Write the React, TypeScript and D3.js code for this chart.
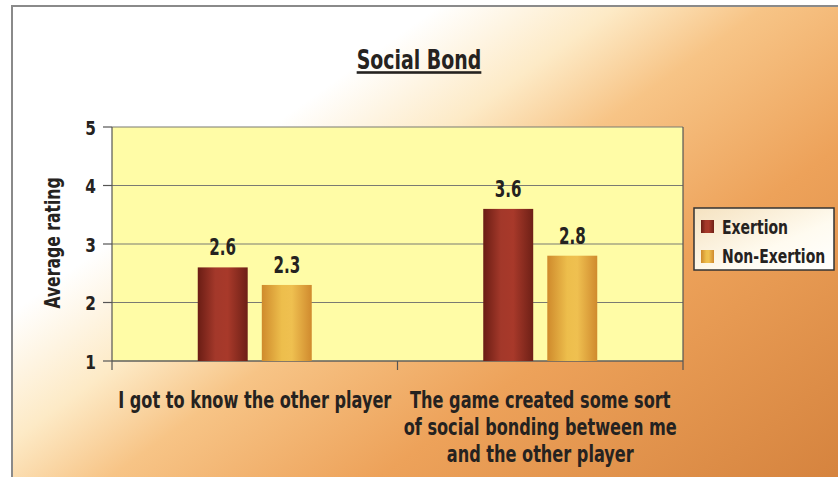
import React from "react";
import * as d3 from "d3";

const categories = [
  ["I got to know the other player"],
  ["The game created some sort", "of social bonding between me", "and the other player"],
];
const seriesNames = ["Exertion", "Non-Exertion"];
const exertion = [2.6, 3.6];
const nonExertion = [2.3, 2.8];
const yTicks = [1, 2, 3, 4, 5];
const title = "Social Bond";
const yTitle = "Average rating";

const W = 838;
const H = 477;
const FONT = "'DejaVu Sans Condensed', 'DejaVu Sans', sans-serif";
const INK = "#252220";

function Label(props: {
  x: number;
  y: number;
  size: number;
  anchor?: "start" | "middle" | "end";
  rotate?: number;
  k?: number;
  underline?: boolean;
  children: React.ReactNode;
}) {
  const { x, y, size, anchor = "start", rotate = 0, k = 0.8, underline } = props;
  return (
    <text
      transform={`translate(${x},${y}) rotate(${rotate}) scale(${k},1)`}
      textAnchor={anchor}
      fontFamily={FONT}
      fontWeight="bold"
      fontSize={size}
      fill={INK}
      textDecoration={underline ? "underline" : undefined}
    >
      {props.children}
    </text>
  );
}

export default function App() {
  const plot = { left: 112, right: 683, top: 127, bottom: 361 };
  const y = d3.scaleLinear().domain([1, 5]).range([plot.bottom, plot.top]);
  const x0 = d3
    .scaleBand<number>()
    .domain(categories.map((_, i) => i))
    .range([plot.left, plot.right]);
  const groupW = 114;
  const x1 = d3.scaleBand<number>().domain([0, 1]).range([0, groupW]).paddingInner(0.22);
  const series = [exertion, nonExertion];
  const fills = ["url(#gEx)", "url(#gNon)"];

  return (
    <svg width={W} height={H} style={{ position: "absolute", left: 0, top: 0 }}>
      <defs>
        <linearGradient id="bg" gradientUnits="userSpaceOnUse" x1={0} y1={0} x2={506} y2={706}>
          <stop offset="0" stopColor="#FFFFFF" />
          <stop offset="0.3" stopColor="#FFFFFF" />
          <stop offset="0.42" stopColor="#FDEAC6" />
          <stop offset="0.52" stopColor="#F7C486" />
          <stop offset="0.7" stopColor="#EDA25A" />
          <stop offset="1" stopColor="#D6843F" />
        </linearGradient>
        <linearGradient id="gEx" x1="0" x2="1" y1="0" y2="0">
          <stop offset="0" stopColor="#6A1D14" />
          <stop offset="0.35" stopColor="#A3382A" />
          <stop offset="0.6" stopColor="#A8392A" />
          <stop offset="1" stopColor="#6E2016" />
        </linearGradient>
        <linearGradient id="gNon" x1="0" x2="1" y1="0" y2="0">
          <stop offset="0" stopColor="#CF8A2C" />
          <stop offset="0.4" stopColor="#EDBE4C" />
          <stop offset="0.6" stopColor="#EFC050" />
          <stop offset="1" stopColor="#D08A2E" />
        </linearGradient>
        <linearGradient id="legBg" x1="0" x2="1" y1="0" y2="1">
          <stop offset="0" stopColor="#F5E2C0" />
          <stop offset="0.6" stopColor="#FFFBF0" />
          <stop offset="1" stopColor="#FFFFFF" />
        </linearGradient>
      </defs>
      <rect x={0} y={0} width={W} height={H} fill="#FFFFFF" />
      <rect x={12} y={6} width={W} height={H} fill="url(#bg)" />
      <path d={`M12,${H} V6 H${W}`} fill="none" stroke="#8A8A8A" strokeWidth={2} />

      {/* title */}
      <Label x={419} y={69} size={26} anchor="middle" k={0.81} underline>
        {title}
      </Label>

      {/* plot area */}
      <rect x={plot.left} y={plot.top} width={plot.right - plot.left} height={plot.bottom - plot.top} fill="#FFFCA6" />
      {yTicks.map((t) => (
        <g key={t}>
          <line x1={plot.left} x2={plot.right} y1={y(t)} y2={y(t)} stroke="#7A7A72" strokeWidth={1.2} />
          <line x1={plot.left - 9} x2={plot.left} y1={y(t)} y2={y(t)} stroke="#555" strokeWidth={1.2} />
          <Label x={96} y={y(t) + 7.5} size={20} anchor="end" k={0.85}>
            {t}
          </Label>
        </g>
      ))}
      <line x1={plot.right} x2={plot.right} y1={plot.top} y2={plot.bottom + 9} stroke="#555" strokeWidth={1.2} />
      <line x1={plot.left} x2={plot.left} y1={plot.top} y2={plot.bottom + 9} stroke="#555" strokeWidth={1.2} />
      <line x1={x0(1)!} x2={x0(1)!} y1={plot.bottom} y2={plot.bottom + 9} stroke="#555" strokeWidth={1.2} />
      <line x1={plot.left} x2={plot.right} y1={plot.bottom} y2={plot.bottom} stroke="#555" strokeWidth={1.2} />

      {/* bars */}
      {categories.map((_, ci) => {
        const gx = x0(ci)! + x0.bandwidth() / 2 - groupW / 2;
        return (
          <g key={ci}>
            {series.map((s, si) => {
              const bx = gx + x1(si)!;
              const bw = x1.bandwidth();
              return (
                <g key={si}>
                  <rect x={bx} y={y(s[ci])} width={bw} height={plot.bottom - y(s[ci])} fill={fills[si]} />
                  <Label x={bx + bw / 2} y={y(s[ci]) - 12} size={23} anchor="middle" k={0.73}>
                    {s[ci].toFixed(1)}
                  </Label>
                </g>
              );
            })}
          </g>
        );
      })}

      {/* category labels */}
      {categories.map((lines, ci) =>
        lines.map((l, li) => (
          <Label key={ci + "-" + li} x={x0(ci)! + x0.bandwidth() / 2} y={408 + li * 27} size={23} anchor="middle" k={0.78}>
            {l}
          </Label>
        ))
      )}

      {/* y title */}
      <Label x={60} y={243} size={22} anchor="middle" rotate={-90} k={0.79}>
        {yTitle}
      </Label>

      {/* legend */}
      <rect x={694} y={208} width={140} height={62} fill="url(#legBg)" stroke="#333" strokeWidth={1.5} />
      {seriesNames.map((n, i) => (
        <g key={n}>
          <rect x={701} y={220 + i * 30} width={13} height={13} fill={fills[i]} />
          <Label x={722} y={234 + i * 29} size={19} k={0.82}>
            {n}
          </Label>
        </g>
      ))}
    </svg>
  );
}
